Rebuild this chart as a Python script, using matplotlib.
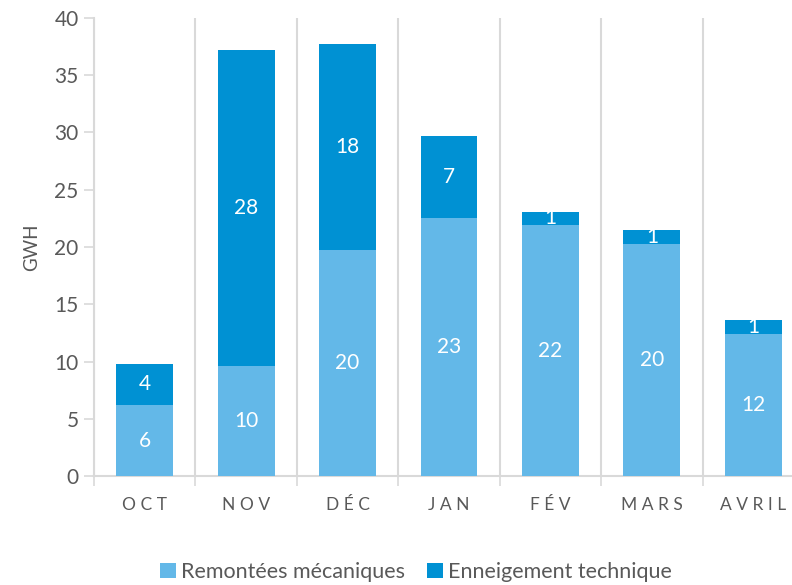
import matplotlib as mpl
import matplotlib.pyplot as plt
import numpy as np

mois = ['OCT', 'NOV', 'DÉC', 'JAN', 'FÉV', 'MARS', 'AVRIL']
remontees = [6.2, 9.6, 19.75, 22.55, 21.9, 20.25, 12.4]
enneigement = [3.6, 27.6, 17.95, 7.15, 1.2, 1.2, 1.2]

clair = '#63B8E8'
fonce = '#0091D3'
gris = '#D9D9D9'
texte = '#595959'

mpl.rcParams['font.family'] = ['Lato', 'DejaVu Sans']

fig = plt.figure(figsize=(7.92, 5.85), dpi=100)
ax = fig.add_axes([94/792, 109/585, 710/792, 458/585])

x = np.arange(len(mois))
b1 = ax.bar(x, remontees, width=0.56, color=clair, label='Remontées mécaniques', zorder=3)
b2 = ax.bar(x, enneigement, width=0.56, bottom=remontees, color=fonce,
            label='Enneigement technique', zorder=3)

for barres, vals in ((b1, remontees), (b2, enneigement)):
    for r, v in zip(barres, vals):
        ax.text(r.get_x() + r.get_width()/2, r.get_y() + r.get_height()/2,
                f'{round(v + 0.001):d}', ha='center', va='center', color='white',
                fontsize=15, zorder=4)

ax.set_xlim(-0.5, 6.5)
ax.set_ylim(0, 40)
ax.set_yticks(range(0, 41, 5))
ax.set_xticks(x)
ax.set_xticklabels([' '.join(m) for m in mois])
ax.set_xticks(np.arange(-0.5, 7, 1), minor=True)
ax.tick_params(axis='x', which='major', length=0, pad=15, labelsize=12.5, labelcolor=texte)
ax.tick_params(axis='x', which='minor', length=7, color=gris, width=1.2)
ax.tick_params(axis='y', length=7, color=gris, width=1.2, labelsize=15, labelcolor=texte, pad=4)
ax.grid(axis='x', which='minor', color=gris, linewidth=1.5, zorder=0)

for s in ('top', 'right'):
    ax.spines[s].set_visible(False)
for s in ('left', 'bottom'):
    ax.spines[s].set_color(gris)
    ax.spines[s].set_linewidth(1.5)

ax.set_ylabel('GWH', color=texte, fontsize=13.5, labelpad=10)

fig.legend(handles=[b1, b2], loc='center', bbox_to_anchor=(416/792, 13/585), ncol=2,
           frameon=False, fontsize=15.5, handlelength=0.75, handleheight=0.75,
           handletextpad=0.25, columnspacing=1.0, labelcolor=texte)

fig.savefig('out.png', dpi=100)
